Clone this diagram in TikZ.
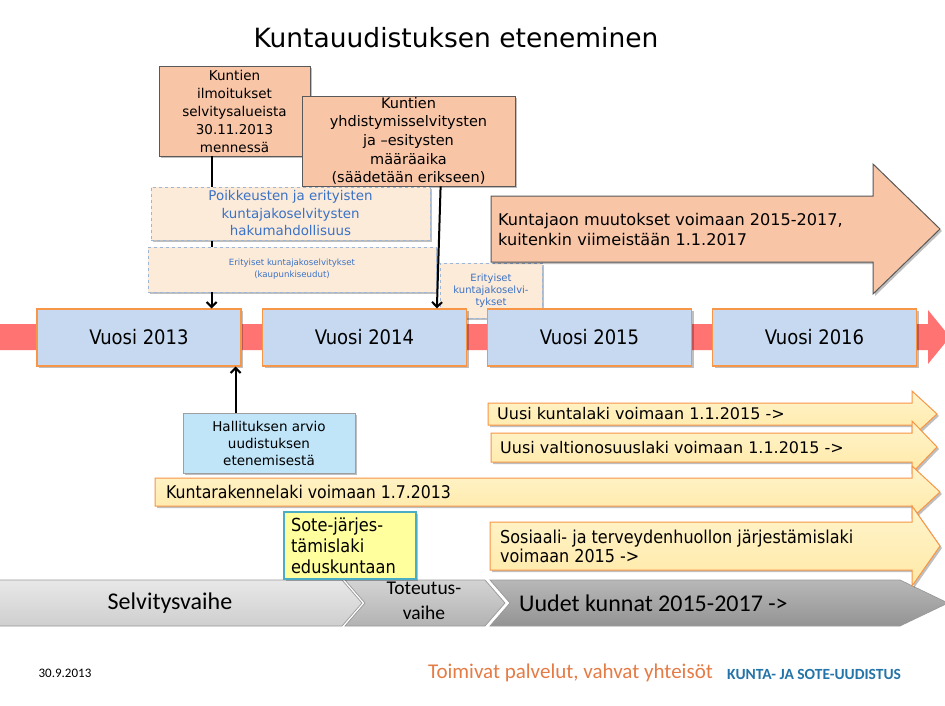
\documentclass[tikz,border=0pt]{standalone}
\usepackage{fontspec}
\setmainfont{DejaVu Sans}
\newfontfamily\cond{DejaVu Sans Condensed}
\newfontfamily\cali{Carlito}
\usetikzlibrary{shadows,arrows.meta,calc}
\definecolor{salm}{HTML}{F8C5A7}
\definecolor{peach}{HTML}{FDEBD9}
\definecolor{dashblue}{HTML}{9DB5D6}
\definecolor{bluetext}{HTML}{3A72C6}
\definecolor{bandred}{HTML}{FF7373}
\definecolor{yearblue}{HTML}{C6D9F1}
\definecolor{orng}{HTML}{F79646}
\definecolor{hallblue}{HTML}{C0E5F8}
\definecolor{yelA}{HTML}{FFF4CC}
\definecolor{yelB}{HTML}{FFE9A6}
\definecolor{sotefill}{HTML}{FFFF9E}
\definecolor{sotebord}{HTML}{4BACC6}
\definecolor{footorange}{HTML}{E57B45}
\definecolor{footblue}{HTML}{2374A8}
\tikzset{
 shad/.style={drop shadow={opacity=.25, shadow xshift=2pt, shadow yshift=-2pt, fill=black}},
 salbox/.style={shad, draw=gray!70!black, line width=.8pt, fill=salm, align=center, inner sep=0pt},
 dbox/.style={shad, draw=dashblue, dashed, line width=.6pt, fill=peach, text=bluetext, align=center, inner sep=0pt},
 year/.style={shad, draw=orng, line width=1.2pt, fill=yearblue, minimum width=204pt, minimum height=57pt, inner sep=0pt, font=\cond\fontsize{20}{24}\selectfont},
 conn/.style={line width=2pt, -{Straight Barb[length=5pt,width=10pt]}},
 yarrow/.style={shad, draw=orng, line width=1pt, top color=yelA, bottom color=yelB},
 atext/.style={anchor=west, inner sep=0pt, align=left},
 chev/.style={draw=black!40, line width=.7pt},
}
\begin{document}
\begin{tikzpicture}[x=1pt,y=-1pt]
\useasboundingbox[fill=white] (0,0) rectangle (945,706);

% title
\node[font=\fontsize{26.5}{30}\selectfont] (title) at (456,38) {Kuntauudistuksen eteneminen};

% E box (behind Vuosi 2014)
\node[dbox, minimum width=102pt, minimum height=55pt, font=\fontsize{10}{12}\selectfont] (E) at (491,290.5) {Erityiset\\kuntajakoselvi-\\tykset};

% timeline band
\fill[bandred] (0,324) -- (928,324) -- (928,310) -- (950,337) -- (928,364) -- (928,350) -- (0,350) -- cycle;

% year boxes
\node[year] (v13) at (139,337.5) {Vuosi 2013};
\node[year] (v14) at (364.5,337.5) {Vuosi 2014};
\node[year] (v15) at (589.5,337.5) {Vuosi 2015};
\node[year] (v16) at (814.5,337.5) {Vuosi 2016};

% top boxes
\node[salbox, minimum width=151pt, minimum height=90pt, font=\fontsize{13.5}{18}\selectfont] (A) at (234.5,111) {Kuntien\\ilmoitukset\\selvitysalueista\\30.11.2013\\mennessä};
\node[salbox, minimum width=213pt, minimum height=90pt, font=\fontsize{14.5}{18.6}\selectfont] (B) at (408.5,141) {Kuntien\\yhdistymisselvitysten\\ja –esitysten\\määräaika\\(säädetään erikseen)};

\coordinate (a1) at ($(A.south west)+(53,0)$);
\draw[conn] (a1) -- (a1 |- v13.north);

% dashed boxes
\node[dbox, minimum width=279pt, minimum height=53pt, font=\fontsize{13.4}{17.5}\selectfont] (C) at (290.5,213.5) {Poikkeusten ja erityisten\\kuntajakoselvitysten\\hakumahdollisuus};
\node[dbox, minimum width=288pt, minimum height=45pt, font=\fontsize{8.6}{12}\selectfont] (D) at (292,269.5) {Erityiset kuntajakoselvitykset\\(kaupunkiseudut)};

\draw[conn] ($(B.south west)+(139,0)$) -- ($(v14.north west)+(175,0)$);

% big arrow
\filldraw[shad, fill=salm, draw=gray!70!black, line width=1pt] (491,196) -- (873,196) -- (873,164) -- (940,229) -- (873,294) -- (873,262) -- (491,262) -- cycle;
\node[atext, font=\fontsize{16.1}{20}\selectfont] (F) at (498,229) {Kuntajaon muutokset voimaan 2015-2017,\\kuitenkin viimeistään 1.1.2017};

% Hallituksen box
\node[shad, draw=gray!75, line width=.8pt, fill=hallblue, minimum width=172pt, minimum height=60pt, align=center, inner sep=0pt, font=\fontsize{13.5}{17}\selectfont] (hall) at (269,443) {Hallituksen arvio\\uudistuksen\\etenemisestä};
\coordinate (h1) at ($(hall.north west)+(53,0)$);
\draw[conn] (h1) -- (h1 |- v13.south);

% bottom band
\path[chev, top color=black!9, bottom color=black!19] (-2,580) -- (342,580) -- (362,603) -- (342,626) -- (-2,626) -- cycle;
\path[chev, top color=black!17, bottom color=black!30] (345,580) -- (485,580) -- (505,603) -- (485,626) -- (345,626) -- (365,603) -- cycle;
\path[chev, top color=black!28, bottom color=black!42] (490,580) -- (900,580) -- (948,603) -- (900,626) -- (490,626) -- (510,603) -- cycle;
\node[font=\cali\fontsize{24}{28}\selectfont, inner sep=0pt] (s1) at (170,603) {Selvitysvaihe};
\node[font=\cali\fontsize{19.5}{25}\selectfont, inner sep=0pt, align=center] (s2) at (424,601) {Toteutus-\\vaihe};
\node[atext, font=\cali\fontsize{24}{28}\selectfont] (s3) at (519,603) {Uudet kunnat 2015-2017 ->};

% yellow arrows
\path[yarrow] (488,403) -- (912,403) -- (912,391) -- (937,414) -- (912,437) -- (912,425) -- (488,425) -- cycle;
\node[atext, font=\fontsize{16}{19}\selectfont] (G) at (497,414) {Uusi kuntalaki voimaan 1.1.2015 ->};
\path[yarrow] (491,433) -- (912,433) -- (912,421) -- (937,447) -- (912,473) -- (912,462) -- (491,462) -- cycle;
\node[atext, font=\fontsize{16}{19}\selectfont] (H) at (500,447.5) {Uusi valtionosuuslaki voimaan 1.1.2015 ->};
\path[yarrow] (155,478) -- (912,478) -- (912,466) -- (940,492) -- (912,518) -- (912,506) -- (155,506) -- cycle;
\node[atext, font=\cond\fontsize{17.5}{20}\selectfont] (I) at (166,492) {Kuntarakennelaki voimaan 1.7.2013};
\path[yarrow] (490,522) -- (912,522) -- (912,506) -- (940,546) -- (912,586) -- (912,570) -- (490,570) -- cycle;
\node[atext, font=\cond\fontsize{17.8}{19.5}\selectfont] (J) at (500,546.5) {Sosiaali- ja terveydenhuollon järjestämislaki\\voimaan 2015 ->};

% Sote box
\node[shad, draw=sotebord, line width=2pt, fill=sotefill, anchor=north west, minimum height=67pt, text width=118pt, inner xsep=7pt, inner ysep=0pt, align=left, font=\cond\fontsize{18}{21}\selectfont] (K) at (283,511) {Sote-järjes-\\tämislaki\\eduskuntaan};

% footer
\node[font=\cali\fontsize{13}{15}\selectfont, inner sep=0pt] (date) at (65,673) {30.9.2013};
\node[atext, text=footorange, font=\cali\fontsize{21}{24}\selectfont] (slogan) at (428,673) {Toimivat palvelut, vahvat yhteisöt};
\node[atext, text=footblue, font=\cali\bfseries\fontsize{15.5}{18}\selectfont] (brand) at (727,674) {KUNTA- JA SOTE-UUDISTUS};
\end{tikzpicture}
\end{document}
